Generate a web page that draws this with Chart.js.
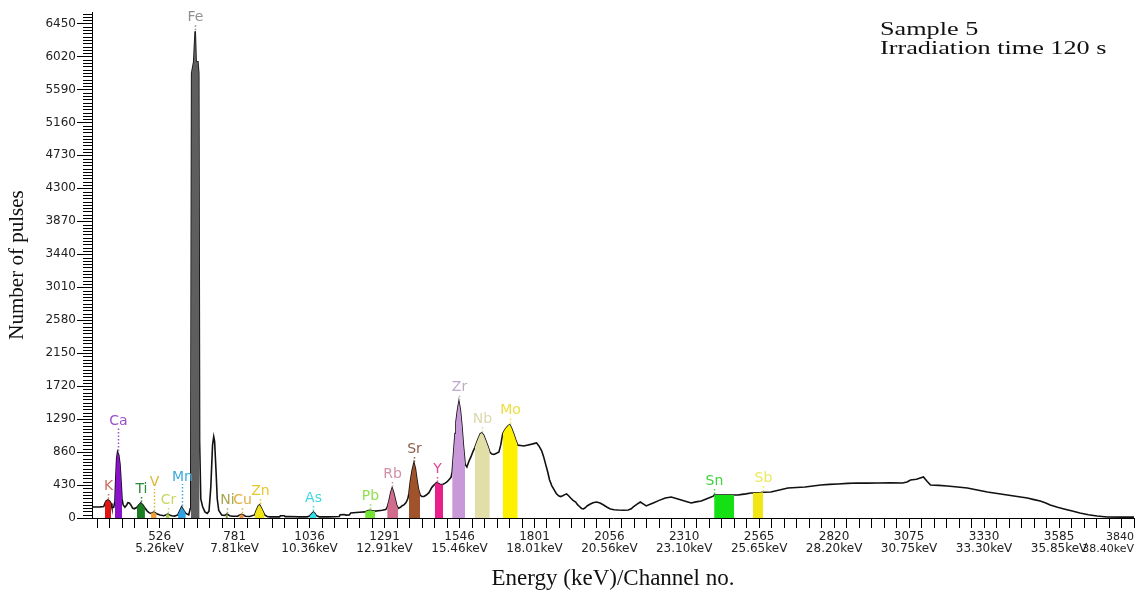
<!DOCTYPE html>
<html>
<head>
<meta charset="utf-8">
<script src="https://cdn.jsdelivr.net/npm/chart.js@4.4.1/dist/chart.umd.min.js"></script>
<style>
  html, body { margin: 0; padding: 0; background: #fff; }
  #wrap { position: relative; width: 1137px; height: 590px; }
  #note { position: absolute; left: 880px; top: 19px; font: 19px/19px "Liberation Serif", serif; color: #111;
          transform: scaleX(1.38); transform-origin: 0 0; white-space: nowrap; }
</style>
</head>
<body>
<div id="wrap">
  <canvas id="spectrum"></canvas>
  <div id="note">Sample 5<br>Irradiation time 120 s</div>
</div>
<script>
// spectrum trace (channel no. / number of pulses)
const channels = [296, 323, 336, 340, 344, 350, 356, 361, 364, 370, 374, 377, 380, 383, 387, 391, 394, 398, 402, 408, 414,
  418, 423, 428, 434, 440, 449, 455, 462, 469, 476, 484, 490, 496, 502, 506, 511, 516, 527, 540, 547,
  554, 560, 567, 577, 588, 594, 601, 608, 615, 625, 630, 632, 635, 642, 647, 650, 656, 659, 662, 666,
  672, 680, 688, 694, 700, 706, 710, 713, 718, 722, 727, 737, 746, 750, 754, 758, 764, 775, 791, 797,
  805, 812, 818, 832, 849, 855, 862, 866, 872, 878, 883, 892, 900, 934, 937, 950, 953, 967, 1001, 1028,
  1036, 1042, 1049, 1055, 1059, 1069, 1103, 1137, 1140, 1154, 1160, 1171, 1176, 1205, 1225, 1233, 1242, 1250, 1259, 1270,
  1283, 1295, 1300, 1306, 1312, 1317, 1322, 1327, 1332, 1337, 1345, 1351, 1358, 1364, 1370, 1374, 1379, 1385, 1391, 1396,
  1401, 1406, 1412, 1418, 1425, 1433, 1442, 1452, 1458, 1462, 1466, 1469, 1474, 1479, 1484, 1490, 1497, 1503, 1510, 1517,
  1521, 1524, 1528, 1531, 1534, 1539, 1544, 1549, 1554, 1559, 1565, 1571, 1578, 1585, 1591, 1598, 1605, 1612, 1617, 1622,
  1628, 1636, 1643, 1649, 1656, 1663, 1672, 1680, 1686, 1693, 1700, 1707, 1712, 1717, 1722, 1730, 1737, 1744, 1754, 1764,
  1776, 1788, 1798, 1808, 1816, 1825, 1832, 1839, 1846, 1852, 1860, 1866, 1875, 1883, 1890, 1897, 1904, 1910, 1917, 1924,
  1932, 1941, 1948, 1954, 1961, 1968, 1975, 1981, 1991, 2000, 2012, 2024, 2036, 2048, 2059, 2072, 2086, 2104, 2120, 2130,
  2137, 2150, 2161, 2172, 2181, 2192, 2205, 2225, 2246, 2266, 2283, 2300, 2317, 2334, 2350, 2368, 2385, 2402, 2409, 2412,
  2430, 2450, 2476, 2480, 2493, 2507, 2520, 2537, 2544, 2552, 2561, 2570, 2578, 2605, 2634, 2663, 2692, 2721, 2748, 2775,
  2804, 2833, 2866, 2900, 2934, 2968, 3010, 3053, 3068, 3080, 3100, 3124, 3136, 3148, 3176, 3205, 3240, 3273, 3307, 3341,
  3375, 3409, 3443, 3477, 3500, 3521, 3540, 3555, 3580, 3602, 3630, 3656, 3685, 3714, 3748, 3800, 3840];
const counts = [144, 145, 150, 190, 220, 235, 220, 190, 135, 140, 220, 520, 780, 862, 820, 700, 520, 250, 170, 140, 170,
  200, 195, 170, 130, 120, 140, 170, 196, 170, 130, 90, 70, 60, 70, 78, 70, 55, 40, 30, 40,
  52, 40, 30, 25, 40, 90, 145, 100, 60, 40, 120, 300, 5800, 5950, 6350, 5950, 5950, 5800, 1000, 250,
  150, 80, 60, 90, 400, 950, 1060, 1000, 600, 250, 100, 40, 35, 40, 50, 45, 30, 22, 22, 35,
  48, 35, 22, 20, 40, 100, 160, 170, 130, 80, 40, 20, 15, 15, 30, 30, 18, 20, 15, 15,
  25, 50, 78, 55, 30, 15, 15, 20, 42, 45, 38, 40, 65, 75, 80, 95, 100, 95, 90, 95,
  100, 110, 140, 220, 330, 390, 330, 250, 170, 125, 140, 160, 175, 200, 250, 320, 480, 620, 718, 640,
  500, 380, 300, 280, 280, 300, 330, 400, 425, 440, 455, 457, 450, 440, 435, 440, 455, 470, 500, 530,
  600, 750, 950, 1100, 1250, 1400, 1515, 1400, 1200, 950, 700, 665, 740, 800, 860, 920, 990, 1060, 1100, 1110,
  1080, 1000, 930, 860, 835, 830, 845, 860, 950, 1100, 1150, 1185, 1205, 1215, 1180, 1100, 1020, 950, 945, 940,
  950, 960, 970, 980, 940, 880, 800, 700, 600, 500, 420, 380, 320, 290, 280, 290, 305, 313, 290, 260,
  230, 209, 170, 150, 125, 118, 140, 160, 183, 200, 209, 195, 170, 140, 118, 108, 104, 102, 104, 120,
  144, 180, 209, 180, 157, 175, 196, 230, 261, 274, 255, 235, 215, 196, 210, 222, 248, 274, 285, 300,
  300, 300, 300, 300, 300, 308, 315, 326, 326, 328, 330, 332, 335, 340, 365, 392, 398, 405, 418, 431,
  438, 444, 452, 457, 455, 457, 458, 457, 470, 496, 505, 535, 480, 431, 425, 418, 405, 392, 365, 340,
  320, 300, 280, 261, 240, 222, 195, 170, 140, 118, 90, 65, 42, 26, 13, 12, 12];

// identified element peaks: channel range that is shaded
const peakNames = ['K', 'Ca', 'Ti', 'V', 'Cr', 'Mn', 'Fe', 'Ni', 'Cu', 'Zn', 'As', 'Pb', 'Rb', 'Sr', 'Y', 'Zr', 'Nb', 'Mo', 'Sn', 'Sb'];
const peakFrom = [340, 374, 449, 496, 547, 588, 632, 750, 797, 849, 1036, 1225, 1300, 1374, 1462, 1521, 1598, 1693, 2412, 2544];
const peakTo   = [361, 398, 476, 516, 560, 615, 662, 758, 812, 883, 1059, 1259, 1337, 1412, 1490, 1565, 1649, 1744, 2480, 2578];

// axis labels
const xMajor = [526, 781, 1036, 1291, 1546, 1801, 2056, 2310, 2565, 2820, 3075, 3330, 3585, 3840];
const xKeV = ['5.26keV', '7.81keV', '10.36keV', '12.91keV', '15.46keV', '18.01keV', '20.56keV', '23.10keV',
  '25.65keV', '28.20keV', '30.75keV', '33.30keV', '35.85keV', '38.40keV'];
const yMajor = [0, 430, 860, 1290, 1720, 2150, 2580, 3010, 3440, 3870, 4300, 4730, 5160, 5590, 6020, 6450];

// styles
const fillColors = ['#e01414', '#8a12cc', '#1b7d22', '#eea03a', '#a8d048', '#2ea2e2', '#5e5e5e', '#8c9a34', '#ea9440', '#f2e414',
  '#34e0ea', '#74e434', '#d26c8c', '#a0522a', '#e8208a', '#c898d8', '#e2dea8', '#fff000', '#14e014', '#f2e614'];
const textColors = ['#c87060', '#9a50c8', '#2a8a3a', '#d8b830', '#c8d860', '#40a8d8', '#909090', '#a8a850', '#e0b040', '#e8c830',
  '#40d8e0', '#90e050', '#d090a8', '#8a6048', '#e04890', '#c0a8c8', '#dcd8ae', '#ece040', '#40d040', '#ece860'];
const labelLift = { Ca: 31, V: 30, Mn: 30 };

const points = channels.map((c, i) => ({ x: c, y: counts[i] }));

const xTicks = [];
for (let k = 5; k >= 1; k--) xTicks.push(xMajor[0] - k * 42.5);
xMajor.forEach((c, i) => {
    xTicks.push(c);
    const next = xMajor[i + 1];
    if (next) for (let k = 1; k < 6; k++) xTicks.push(c + (next - c) * k / 6);
});

function peakTop(i) {
    let best = null;
    points.forEach(p => {
        if (p.x >= peakFrom[i] && p.x <= peakTo[i] && (!best || p.y > best.y)) best = p;
    });
    return best;
}

const peakSets = peakNames.map((name, i) => ({
    label: name,
    data: points.filter(p => p.x >= peakFrom[i] && p.x <= peakTo[i]),
    backgroundColor: fillColors[i],
    borderColor: fillColors[i],
    borderWidth: 0,
    pointRadius: 0,
    fill: 'origin',
    order: 0
}));

// element names with dotted leader to the peak top
const peakLabels = {
    id: 'peakLabels',
    afterDatasetsDraw(chart) {
        const { ctx, scales: { x, y } } = chart;
        ctx.save();
        ctx.font = '14px "DejaVu Sans"';
        ctx.textAlign = 'center';
        ctx.textBaseline = 'middle';
        peakNames.forEach((name, i) => {
            const top = peakTop(i);
            const px = Math.round(x.getPixelForValue(top.x)) + 0.5;
            const py = y.getPixelForValue(top.y);
            const ly = py - (labelLift[name] || 14);
            ctx.strokeStyle = textColors[i];
            ctx.fillStyle = textColors[i];
            ctx.setLineDash([1.5, 2]);
            ctx.lineWidth = 1.5;
            ctx.beginPath();
            ctx.moveTo(px, py - 1);
            ctx.lineTo(px, ly + 7);
            ctx.stroke();
            ctx.fillText(name, px, ly);
        });
        ctx.restore();
    }
};

// short minor ticks on the count axis
const minorTicks = {
    id: 'minorTicks',
    afterDraw(chart) {
        const { ctx, chartArea, scales: { y } } = chart;
        ctx.save();
        ctx.strokeStyle = '#000';
        ctx.lineWidth = 1;
        ctx.beginPath();
        for (let v = 43; v <= y.max; v += 43) {
            if (v % 430 === 0) continue;
            const py = Math.round(y.getPixelForValue(v)) + 0.5;
            ctx.moveTo(chartArea.left - 9, py);
            ctx.lineTo(chartArea.left, py);
        }
        ctx.stroke();
        ctx.restore();
    }
};

const tickFont = { family: 'DejaVu Sans', size: 12, lineHeight: '12px' };

new Chart(document.getElementById('spectrum'), {
    type: 'line',
    data: {
        datasets: [
            {
                label: 'spectrum',
                data: points,
                borderColor: '#111',
                borderWidth: 1.6,
                pointRadius: 0,
                tension: 0,
                fill: false,
                order: 1
            },
            ...peakSets
        ]
    },
    options: {
        responsive: true, maintainAspectRatio: false,
        animation: false,
        events: [],
        layout: { padding: { top: 12, right: 1, left: 0, bottom: 0 } },
        plugins: { legend: { display: false }, tooltip: { enabled: false } },
        scales: {
            x: {
                type: 'linear', min: 296, max: 3840,
                border: { color: '#000', width: 1 },
                grid: { drawOnChartArea: false, tickLength: 10, tickColor: '#000' },
                afterBuildTicks: s => { s.ticks = xTicks.map(v => ({ value: v })); },
                ticks: {
                    autoSkip: false, maxRotation: 0, align: 'inner', padding: 3,
                    color: '#222',
                    font: c => (c.index === xTicks.length - 1 ? { ...tickFont, size: 11 } : tickFont),
                    callback: v => {
                        const i = xMajor.indexOf(v);
                        return i < 0 ? '' : [String(v), xKeV[i]];
                    }
                },
                title: {
                    display: true, text: 'Energy (keV)/Channel no.', color: '#111',
                    font: { family: 'Liberation Serif', size: 23, lineHeight: 1 }, padding: 0
                },
                afterFit: s => { s.height = 72; }
            },
            y: {
                min: 0, max: 6600,
                border: { color: '#000', width: 1 },
                grid: { drawOnChartArea: false, tickLength: 15, tickColor: '#000' },
                afterBuildTicks: s => { s.ticks = yMajor.map(v => ({ value: v })); },
                ticks: { padding: 1, color: '#222', font: tickFont, callback: v => String(v) },
                title: {
                    display: true, text: 'Number of pulses', color: '#111',
                    font: { family: 'Liberation Serif', size: 21 }, padding: { top: 5, bottom: 0 }
                },
                afterFit: s => { s.width = 92; }
            }
        }
    },
    plugins: [peakLabels, minorTicks]
});
</script>
</body>
</html>
